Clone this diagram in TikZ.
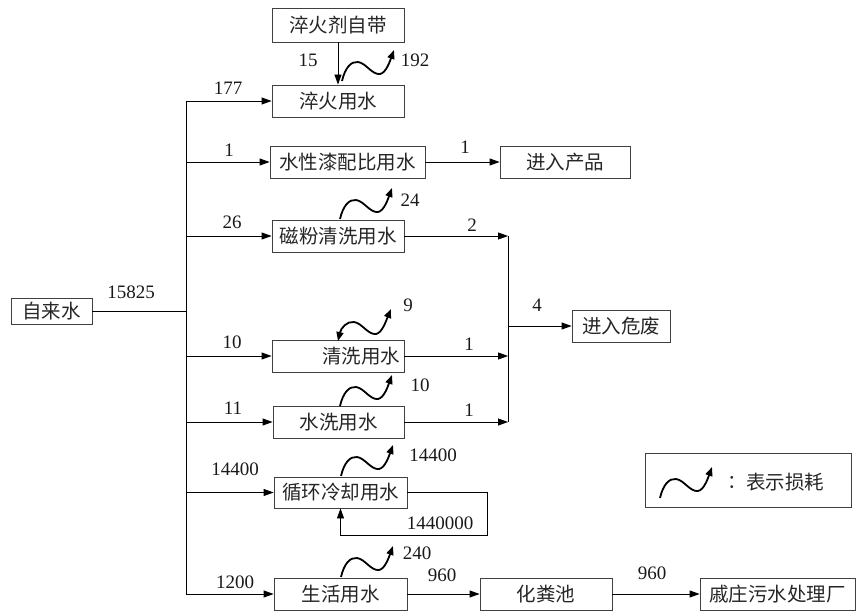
\documentclass[tikz,border=0pt]{standalone}
\usepackage{fontspec}
\setmainfont{Liberation Serif}
\newfontfamily\cjk{Noto Sans CJK SC}
\usetikzlibrary{arrows.meta,calc}
\begin{document}
\begin{tikzpicture}[x=1pt,y=-1pt,
 box/.style={draw=black!75, line width=0.8pt, inner sep=0pt, minimum height=32pt, font=\cjk\fontsize{19.5}{22}\selectfont, text=black!85},
 num/.style={font=\fontsize{19}{22}\selectfont, text=black!90, inner sep=0pt},
 arr/.style={line width=0.8pt, -{Triangle[length=10pt,width=7pt]}},
 ln/.style={line width=0.8pt},
 loss/.style={line width=1.8pt, -{Triangle[length=9pt,width=7pt]}},
 lossb/.style={line width=1.8pt, {Triangle[length=9pt,width=7pt]}-{Triangle[length=9pt,width=7pt]}},
 pics/lossw/.style={code={\draw[loss] (0,0) .. controls (3,-13) and (9,-20) .. (16,-19) .. controls (24,-18) and (30,-6) .. (38,-7) .. controls (44,-8) and (48,-20) .. (52,-31);}},
 pics/losswb/.style={code={\draw[lossb] (0,0) .. controls (3,-13) and (9,-20) .. (16,-19) .. controls (24,-18) and (30,-6) .. (38,-7) .. controls (44,-8) and (48,-20) .. (53,-32);}}
]
\useasboundingbox (0,0) rectangle (857,612);

% boxes
\node[box, minimum width=132pt, minimum height=34pt] (qjz) at (338,25) {淬火剂自带};
\node[box, minimum width=132pt] (cq) at (338,101) {淬火用水};
\node[box, minimum width=155pt] (sx) at (347.5,162) {水性漆配比用水};
\node[box, minimum width=130pt] (cp) at (565,162) {进入产品};
\node[box, minimum width=132pt] (cf) at (338,236) {磁粉清洗用水};
\node[box, minimum width=98pt] (wf) at (621,326) {进入危废};
\node[box, minimum width=132pt, text width=124pt, align=right] (qx) at (338,356) {清洗用水};
\node[box, minimum width=131pt] (sxy) at (338.5,422) {水洗用水};
\node[box, minimum width=133pt, minimum height=31pt] (xh) at (340.5,492.5) {循环冷却用水};
\node[box, minimum width=133pt] (sh) at (340.5,594) {生活用水};
\node[box, minimum width=132pt] (hfc) at (546,594) {化粪池};
\node[box, minimum width=155pt] (qz) at (777.5,594) {戚庄污水处理厂};
\node[box, minimum width=81pt, minimum height=26pt] (zls) at (51.5,311.5) {自来水};
\node[box, minimum width=206pt, minimum height=54pt] (leg) at (748,480) {};

% trunk
\coordinate (ttop) at (186,101);
\coordinate (tbot) at (186,594);
\draw[ln] (ttop) -- (tbot);
\draw[ln] (zls.east) -- (zls.east -| ttop);
\draw[arr] (cq.west -| ttop) -- (cq.west);
\draw[arr] (sx.west -| ttop) -- (sx.west);
\draw[arr] (cf.west -| ttop) -- (cf.west);
\draw[arr] (qx.west -| ttop) -- (qx.west);
\draw[arr] (sxy.west -| ttop) -- (sxy.west);
\draw[arr] (xh.west -| ttop) -- (xh.west);
\draw[arr] (sh.west -| ttop) -- (sh.west);

% other flows
\draw[arr] (qjz.south) -- (cq.north);
\draw[arr] (sx.east) -- (cp.west);
\coordinate (c1) at (508,236);
\coordinate (c2) at (508,356);
\coordinate (c3) at (508,422);
\draw[ln] (c1) -- (c3);
\draw[arr] (cf.east) -- (c1);
\draw[arr] (qx.east) -- (c2);
\draw[arr] (sxy.east) -- (c3);
\draw[arr] (wf.west -| c1) -- (wf.west);
\draw[arr] (xh.east) -- ++(80,0) |- ($(xh.south)+(0,27)$) -- (xh.south);
\draw[arr] (sh.east) -- (hfc.west);
\draw[arr] (hfc.east) -- (qz.west);

% losses
\pic at (342,81) {lossw};
\pic at (340,219) {lossw};
\pic at (338,341) {losswb};
\pic at (340,406) {lossw};
\pic at (341,476) {lossw};
\pic at (341,577) {lossw};
\pic at (660,498) {lossw};

% legend text
\node[font=\cjk\fontsize{19}{22}\selectfont, text=black!85] (colon) at (737,482) {：};
\node[font=\cjk\fontsize{19.5}{22}\selectfont, text=black!85] (legt) at (785,482) {表示损耗};

% labels
\node[num] (l1) at (308,60) {15};
\node[num] (l2) at (415,60) {192};
\node[num] (l3) at (228,88) {177};
\node[num] (l4) at (229,150) {1};
\node[num] (l5) at (465,147) {1};
\node[num] (l6) at (232,222) {26};
\node[num] (l7) at (410,200) {24};
\node[num] (l8) at (472,225) {2};
\node[num] (l9) at (408,305) {9};
\node[num] (l10) at (537,305) {4};
\node[num] (l11) at (232,342) {10};
\node[num] (l12) at (469,344) {1};
\node[num] (l13) at (420,385) {10};
\node[num] (l14) at (233,408) {11};
\node[num] (l15) at (469,410) {1};
\node[num] (l16) at (235,469) {14400};
\node[num] (l17) at (433,455) {14400};
\node[num] (l18) at (440,523) {1440000};
\node[num] (l19) at (417,553) {240};
\node[num] (l20) at (235,582) {1200};
\node[num] (l21) at (442,575) {960};
\node[num] (l22) at (652,573) {960};
\node[num] (l23) at (131,292) {15825};
\end{tikzpicture}
\end{document}
